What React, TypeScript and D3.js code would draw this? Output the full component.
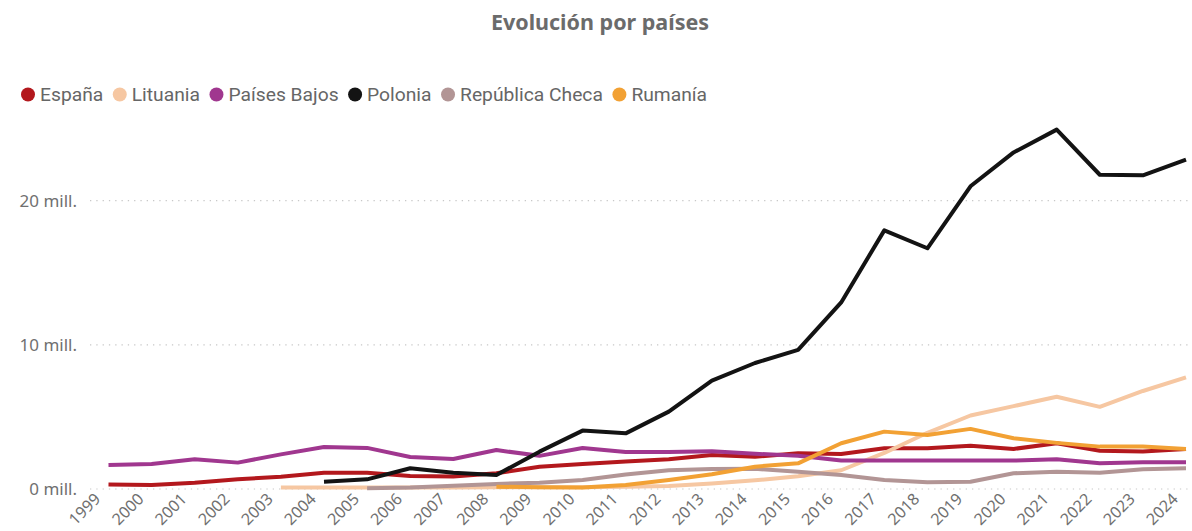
import React from 'react';
import * as d3 from 'd3';

const years: string[] = [
  '1999', '2000', '2001', '2002', '2003', '2004', '2005', '2006', '2007', '2008', '2009', '2010', '2011',
  '2012', '2013', '2014', '2015', '2016', '2017', '2018', '2019', '2020', '2021', '2022', '2023', '2024',
];

const espana: (number | null)[] = [
  0.32, 0.28, 0.44, 0.67, 0.85, 1.13, 1.13, 0.9, 0.86, 1.09, 1.55, 1.74, 1.9,
  2.06, 2.36, 2.24, 2.48, 2.43, 2.82, 2.82, 3.0, 2.78, 3.17, 2.66, 2.6, 2.78,
];
const lituania: (number | null)[] = [
  null, null, null, null, 0.1, 0.1, 0.1, 0.1, 0.1, 0.12, 0.12, 0.12, 0.15,
  0.2, 0.38, 0.6, 0.88, 1.3, 2.5, 3.9, 5.1, 5.75, 6.4, 5.7, 6.8, 7.75,
];
const paisesBajos: (number | null)[] = [
  1.66, 1.73, 2.06, 1.83, 2.4, 2.92, 2.85, 2.22, 2.08, 2.7, 2.3, 2.85, 2.57,
  2.57, 2.62, 2.45, 2.3, 1.97, 1.97, 1.97, 1.97, 1.97, 2.06, 1.78, 1.85, 1.85,
];
const polonia: (number | null)[] = [
  null, null, null, null, null, 0.51, 0.67, 1.44, 1.13, 0.97, 2.59, 4.05, 3.86,
  5.37, 7.52, 8.74, 9.65, 12.94, 17.94, 16.7, 21.0, 23.35, 24.93, 21.8, 21.76, 22.85,
];
const republicaCheca: (number | null)[] = [
  null, null, null, null, null, null, 0.05, 0.1, 0.23, 0.35, 0.44, 0.62, 1.0,
  1.3, 1.38, 1.4, 1.2, 0.97, 0.62, 0.46, 0.5, 1.09, 1.2, 1.13, 1.37, 1.44,
];
const rumania: (number | null)[] = [
  null, null, null, null, null, null, null, null, null, 0.16, 0.12, 0.1, 0.28,
  0.62, 1.02, 1.55, 1.78, 3.17, 3.98, 3.75, 4.17, 3.52, 3.2, 2.94, 2.94, 2.78,
];

const seriesNames: string[] = ['España', 'Lituania', 'Países Bajos', 'Polonia', 'República Checa', 'Rumanía'];
const seriesColors: string[] = ['#B3181D', '#F6C7A2', '#A0378F', '#131313', '#B29595', '#F2A134'];
const seriesValues = [espana, lituania, paisesBajos, polonia, republicaCheca, rumania];

const yTicks: number[] = [0, 10, 20];
const yTickLabel = (v: number) => `${v} mill.`;
const title = 'Evolución por países';

const W = 1192;
const H = 531;

const legendFontSize = 19.25;
const legendFont = `${legendFontSize}px Roboto, "Liberation Sans", sans-serif`;

function measure(text: string, font: string): number {
  const ctx = document.createElement('canvas').getContext('2d');
  if (!ctx) return text.length * 9;
  ctx.font = font;
  return ctx.measureText(text).width;
}

export default function App() {
  const x = d3.scalePoint<string>().domain(years).range([108.5, 1186]);
  const y = d3.scaleLinear().domain([0, 20]).range([489, 200.7]);

  const line = d3
    .line<number | null>()
    .defined((d) => d != null)
    .x((_, i) => x(years[i]) as number)
    .y((d) => y(d as number));

  const legendItems: { name: string; color: string; cx: number; tx: number }[] = [];
  let cx = 28;
  seriesNames.forEach((name, i) => {
    const tx = cx + 12;
    legendItems.push({ name, color: seriesColors[i], cx, tx });
    cx = tx + measure(name, legendFont) + 16.5;
  });

  return (
    <svg
      width={W}
      height={H}
      style={{ position: 'fixed', left: 0, top: 0, background: '#fff' }}
    >
      <text
        x={600}
        y={30}
        textAnchor="middle"
        fontFamily='"Noto Sans", "Open Sans", sans-serif'
        fontWeight={700}
        fontSize={21.5}
        fill="#6b6b6b"
      >
        {title}
      </text>

      {legendItems.map((it) => (
        <g key={it.name}>
          <circle cx={it.cx} cy={94.5} r={7} fill={it.color} />
          <text
            x={it.tx}
            y={101}
            fontFamily='Roboto, "Liberation Sans", sans-serif'
            fontSize={legendFontSize}
            fill="#666"
          >
            {it.name}
          </text>
        </g>
      ))}

      {yTicks.map((t) => (
        <g key={t}>
          <line
            x1={90}
            x2={W}
            y1={y(t)}
            y2={y(t)}
            stroke="#c8c8c8"
            strokeWidth={1.2}
            strokeDasharray="1.3 5"
          />
          <text
            x={77}
            y={y(t)}
            dy="0.36em"
            textAnchor="end"
            fontFamily='"Noto Sans", "Open Sans", sans-serif'
            fontSize={17}
            fill="#707070"
          >
            {yTickLabel(t)}
          </text>
        </g>
      ))}

      {years.map((yr) => (
        <text
          key={yr}
          transform={`translate(${(x(yr) as number) - 7},${500}) rotate(-45)`}
          textAnchor="end"
          fontFamily='"Noto Sans", "Open Sans", sans-serif'
          fontSize={16}
          fill="#707070"
        >
          {yr}
        </text>
      ))}

      {seriesValues.map((vals, i) => (
        <path
          key={seriesNames[i]}
          d={line(vals) || ''}
          fill="none"
          stroke={seriesColors[i]}
          strokeWidth={4}
          strokeLinejoin="round"
        />
      ))}
    </svg>
  );
}
